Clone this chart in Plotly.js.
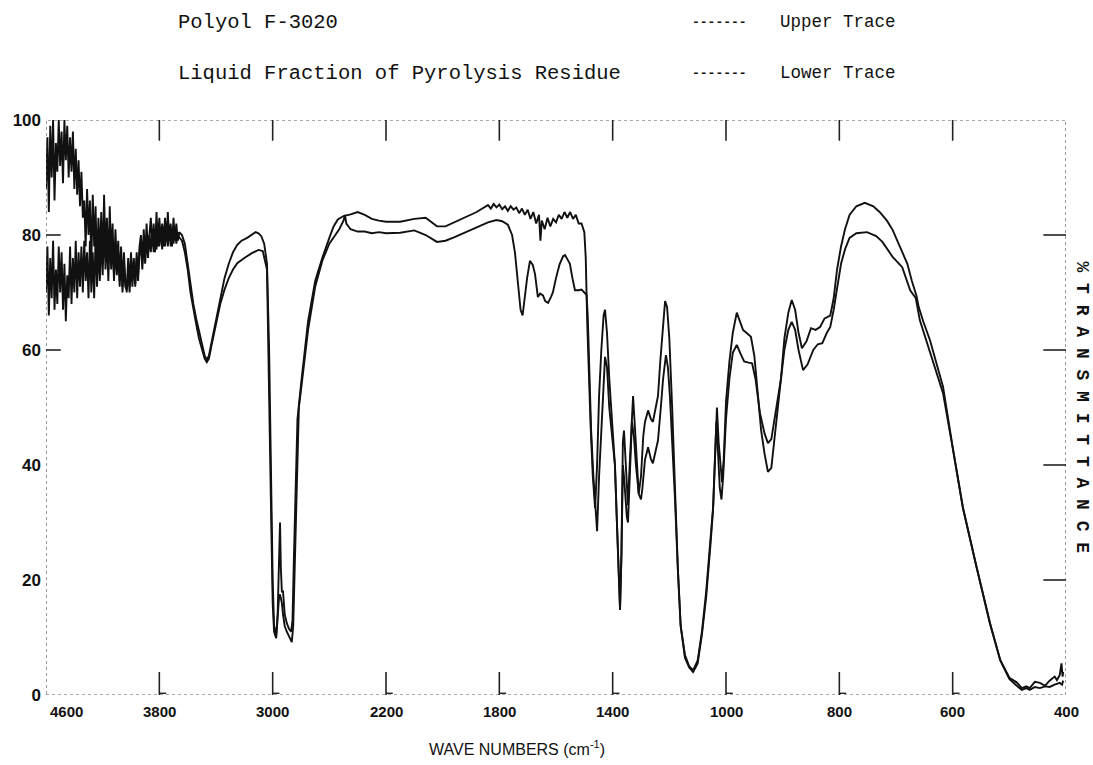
<!DOCTYPE html>
<html>
<head>
<meta charset="utf-8">
<script src="https://cdn.plot.ly/plotly-3.0.1.min.js"></script>
<style>html,body{margin:0;padding:0;background:#fff;}#chart{width:1093px;height:765px;}</style>
</head>
<body>
<div id="chart"></div>
<script>
// ---- Data (wavenumbers in cm^-1, % transmittance) ----
const noisyWave = [4600,4590,4580,4570,4560,4550,4540,4530,4520,4510,
  4500,4490,4480,4470,4460,4450,4440,4430,4420,4410,
  4400,4390,4380,4370,4360,4350,4340,4330,4320,4310,
  4300,4290,4280,4270,4260,4250,4240,4230,4220,4210,
  4200,4190,4180,4170,4160,4150,4140,4130,4120,4110,
  4100,4090,4080,4070,4060,4050,4040,4030,4020,4010,
  4000,3990,3980,3970,3960,3950,3940,3930,3920,3910,
  3900,3890,3880,3870,3860,3850,3840,3830,3820,3810,
  3800,3790,3780,3770,3760,3750,3740,3730,3720,3710,
  3700,3690,3680,3670,3660];
const upperNoisyT = [88,97,84,99,90,100,86,96,91,100,
  92,98,89,100,93,99,90,97,91,98,
  88,95,87,93,85,91,83,86,78,88,
  80,86,75,87,78,85,74,83,76,84,
  75,87,77,83,74,85,76,82,73,81,
  75,79,72,78,71,77,72,70,76,71,
  77,72,76,71,77,73,78,80,75,81,
  76,82,77,81,83,78,82,77,84,78,
  83,79,82,78,83,79,84,79,82,78,
  83,79,82,79,80.5];
const lowerNoisyT = [70,78,66,76,69,79,67,74,68,78,
  70,77,67,75,65,73,69,78,68,76,
  70,79,69,77,71,78,70,79,72,77,
  69,79,70,77,69,80,71,78,72,80,
  73,82,74,80,72,81,74,79,72,78,
  73,77,71,76,70,75,71,70.5,74,70,
  75,71,75.5,71.5,76,72,77,78,74,79,
  75,80,76,80,77,81,77,81,77.5,82,
  78,81,77.5,81.5,78,81,78,81.5,78,81,
  78.5,81,78.5,80.5,79.6];

// Upper trace: Polyol F-3020
const upperWave = [3640,3620,3600,3580,3560,3540,3520,3500,3480,3465,
  3450,3430,3400,3370,3340,3310,3280,3250,3220,3180,
  3150,3120,3100,3080,3060,3040,3025,3010,3000,2990,
  2975,2965,2955,2948,2942,2935,2927,2915,2900,2885,
  2870,2860,2850,2840,2825,2800,2780,2750,2700,2650,
  2600,2570,2540,2500,2450,2400,2350,2300,2250,2200,
  2150,2100,2060,2020,1990,1960,1920,1880,1860,1840,
  1830,1820,1810,1800,1790,1780,1770,1760,1750,1740,
  1730,1720,1710,1700,1690,1680,1670,1660,1655,1650,
  1640,1630,1620,1610,1600,1590,1580,1570,1560,1550,
  1540,1530,1520,1510,1500,1495,1490,1485,1478,1470,
  1462,1455,1448,1440,1432,1427,1420,1412,1402,1392,
  1385,1378,1374,1369,1364,1360,1355,1346,1340,1332,
  1328,1322,1315,1308,1300,1292,1286,1275,1265,1258,
  1248,1240,1232,1222,1215,1208,1200,1190,1180,1170,
  1160,1145,1130,1116,1100,1085,1070,1055,1045,1038,
  1032,1026,1020,1014,1008,1000,994,988,981,975,
  970,964,956,950,944,938,932,926,920,914,
  908,903,897,890,884,878,872,866,858,850,
  842,834,826,816,810,804,797,790,782,770,
  755,740,729,716,706,690,680,672,664,660,
  652,640,630,617,600,582,558,534,516,500,
  487,478,470,464,455,446,437,429,420,416,
  411,408,406,405];
const upperT = [80,78.5,75,71,68,65.5,63.5,61,59,58.3,
  59,61.5,65,69,72.5,75,77,78.3,79,79.5,
  80,80.5,80.3,79.8,78.5,75,60,35,20,12,
  10.5,14,25,30,22,18,18,14,12.5,11.5,
  11,13,24,35,48,54,58,65,72,76,
  79.5,81.5,82.7,83.3,83.6,84,83.5,82.8,82.5,82.3,
  82.3,82.8,83,81.5,81.5,82.2,83,84,84.6,85.2,
  84.6,85.4,84.8,85.3,84.5,85,84.2,85,84.4,84.8,
  83.8,84.6,83.5,84.4,82.8,84,82,83.5,79,82.5,
  81,83,81.5,82.8,82.2,83.5,82.8,84,83,84,
  82.8,83.5,82,82,80.5,76,65,56,47,38,
  32.5,40,52,60,66,67,63,55,46.5,40,
  30,20,15,25,44,46,42,33,40,48,
  52,47,40,35,38,45,47.5,49.5,48,47.5,
  50,52,58,65,68.5,67.5,62,50,35,22,
  12,7,5,4.3,6,11,18,28,33,42,
  50,44,40,37,41,51,58,63,66.5,65,
  63.5,63,62.3,59,52,46,42,38.8,39.5,45,
  51,55,62,66.5,68.7,67,63,60.3,61.5,63.8,
  63.5,64,65.5,66,69,74,78,81,83.5,85,
  85.6,85,84,82.5,80.9,77.4,75,72,69.5,67.5,
  65,61.7,58,53.6,43.1,32.7,22.3,12.5,6.1,3,
  2.2,1.2,1.5,1.2,2.3,2.1,1.6,2.5,3.2,2.6,
  3.5,5.5,3.2,4];

// Lower trace: Liquid Fraction of Pyrolysis Residue
const lowerWave = [3640,3620,3600,3580,3560,3540,3520,3500,3480,3465,
  3450,3430,3400,3370,3340,3310,3280,3250,3200,3150,
  3100,3070,3040,3025,3010,3000,2990,2975,2965,2955,
  2948,2935,2927,2915,2900,2880,2865,2855,2845,2830,
  2815,2800,2780,2750,2700,2650,2600,2560,2530,2500,
  2490,2480,2450,2400,2350,2300,2250,2200,2150,2100,
  2060,2020,1990,1960,1920,1880,1840,1810,1790,1770,
  1755,1745,1735,1725,1718,1712,1702,1692,1682,1674,
  1664,1656,1646,1638,1628,1618,1611,1600,1588,1575,
  1568,1560,1551,1542,1533,1520,1510,1500,1492,1488,
  1482,1476,1468,1462,1455,1448,1440,1432,1427,1420,
  1412,1402,1392,1385,1378,1374,1369,1364,1360,1355,
  1350,1346,1340,1332,1325,1318,1308,1300,1295,1286,
  1275,1265,1258,1250,1240,1230,1222,1212,1205,1198,
  1190,1180,1170,1160,1145,1130,1116,1100,1085,1070,
  1055,1046,1040,1034,1028,1022,1016,1010,1000,994,
  988,981,975,968,960,954,948,940,932,926,
  920,914,908,903,897,890,884,878,872,864,
  856,846,838,830,822,816,810,804,797,790,
  782,770,751,735,724,706,689,675,665,658,
  640,617,600,582,558,534,516,500,487,478,
  470,464,455,446,437,429,420,411,407,405];
const lowerT = [79,77,74,70,67,64.5,62,60,58.5,57.9,
  58.5,61,64.5,68,70.5,72.5,74,75.1,76,76.8,
  77.4,77.2,74,55,30,16,11,9.9,13,17,
  17.5,16,14,12,11,10,9.2,12,22,40,
  50,53,57,63.5,71,75.5,78.5,80,81,82.5,
  83.5,82,81,80.6,80.6,80.3,80.5,80.3,80.4,80.8,
  80,78.8,79,79.6,80.5,81.3,82.2,82.6,82.4,81.8,
  80,77,72,67,66,68.5,72.5,75.5,74.8,73.2,
  69.2,69.8,69.5,68.5,68.2,69.2,70,72.5,74.8,76.3,
  76.5,75.8,75,72.5,70.4,70.4,70.5,70,69.6,66,
  56,46,38,34,28.5,38,47,55,58.8,57,
  50,45,40,30,20,14.8,24,40,38,34,
  31,30,38,47.5,45,40,35,34,36,40.9,
  43.1,41,40.3,42,44.3,50,55,59.1,57,52,
  45,34,22,12,6.5,4.8,4,5.5,10.5,17,
  26,32,40,47.5,42,36,34,38,48,55,
  59.5,60.9,59.5,58,57.8,57.7,55,49,45.5,43.8,
  44.5,48,51.8,55,60,63.5,64.9,63.5,60,56.5,
  57.5,60,61,61.2,63,64,67,71,75,77.5,
  79.5,80.3,80.5,79.8,78.8,76.2,74.4,70.4,69,65.2,
  59.5,52.5,43,32.5,22.3,12.3,6,2.8,1.6,0.9,
  1.2,0.9,1.4,1.2,1.5,1.4,1.8,2.1,1.8,2.5];

// Axis ticks (wavenumber labels) and transmittance labels
const xTickLabels = [4600,3800,3000,2200,1800,1400,1000,800,600,400];
const yTickVals = [0,20,40,60,80,100];
const rightTickVals = [20,40,60,80];
const leftTickVals = [60,80];

// Spectrometer chart paper scale: 800 cm-1/div above 2200, 400 cm-1/div 2200-1000, 200 cm-1/div below 1000
function toU(w){
  if (w >= 2200) return (4600 - w) / 800;
  if (w >= 1000) return 3 + (2200 - w) / 400;
  return 6 + (1000 - w) / 200;
}

const ux = noisyWave.concat(upperWave).map(toU);
const uy = upperNoisyT.concat(upperT);
const lx = noisyWave.concat(lowerWave).map(toU);
const ly = lowerNoisyT.concat(lowerT);

const lineStyle = {color:'#111', width:1.9};
const traces = [
  {x: ux, y: uy, type:'scatter', mode:'lines', line: lineStyle, name:'Polyol F-3020', hoverinfo:'skip'},
  {x: lx, y: ly, type:'scatter', mode:'lines', line: lineStyle, name:'Liquid Fraction of Pyrolysis Residue', hoverinfo:'skip'}
];

const tickColor = '#222';
const shapes = [
  {type:'rect', xref:'x', yref:'y', x0:0, x1:9, y0:0, y1:100, line:{color:'#555', width:1.2, dash:'dot'}}
];
xTickLabels.forEach((lab, i) => {
  if (i === 0 || i === xTickLabels.length - 1) return;
  const u = toU(lab);
  shapes.push({type:'line', xref:'x', yref:'y', x0:u, x1:u, y0:100, y1:96.4, line:{color:tickColor, width:1.6}});
  shapes.push({type:'line', xref:'x', yref:'y', x0:u, x1:u, y0:0, y1:4, line:{color:tickColor, width:1.6}});
  shapes.push({type:'line', xref:'x', yref:'y', x0:u, x1:u+0.06, y0:0.3, y1:0.3, line:{color:tickColor, width:1.4}});
});
rightTickVals.forEach(v => {
  shapes.push({type:'line', xref:'x', yref:'y', x0:9, x1:8.8, y0:v, y1:v, line:{color:tickColor, width:1.6}});
});
leftTickVals.forEach(v => {
  shapes.push({type:'line', xref:'x', yref:'y', x0:0, x1:0.13, y0:v, y1:v, line:{color:tickColor, width:1.6}});
});

const monoFont = {family:'Liberation Mono, DejaVu Sans Mono, monospace', size:20.5, color:'#111'};
const monoFontR = {family:'Liberation Mono, DejaVu Sans Mono, monospace', size:17.5, color:'#111'};
const dashFont = {family:'Liberation Mono, monospace', size:13, color:'#111', weight:'bold'};
const annotations = [
  {text:'Polyol F-3020', xref:'paper', yref:'paper', x:0.1275, y:1.1704, xanchor:'left', yanchor:'middle', showarrow:false, font:monoFont},
  {text:'Liquid Fraction of Pyrolysis Residue', xref:'paper', yref:'paper', x:0.1275, y:1.0817, xanchor:'left', yanchor:'middle', showarrow:false, font:monoFont},
  {text:'-------', xref:'paper', yref:'paper', x:0.6314, y:1.1704, xanchor:'left', yanchor:'middle', showarrow:false, font:dashFont},
  {text:'-------', xref:'paper', yref:'paper', x:0.6314, y:1.0817, xanchor:'left', yanchor:'middle', showarrow:false, font:dashFont},
  {text:'Upper Trace', xref:'paper', yref:'paper', x:0.7176, y:1.1704, xanchor:'left', yanchor:'middle', showarrow:false, font:monoFontR},
  {text:'Lower Trace', xref:'paper', yref:'paper', x:0.7176, y:1.0817, xanchor:'left', yanchor:'middle', showarrow:false, font:monoFontR},
  {text:'WAVE NUMBERS (cm<sup>-1</sup>)', xref:'paper', yref:'paper', x:0.4618, y:-0.0922, xanchor:'center', yanchor:'middle', showarrow:false, font:{family:'Liberation Sans, Arial, sans-serif', size:16, color:'#111'}},
  {text:'% T R A N S M I T T A N C E', xref:'paper', yref:'paper', x:1.0157, y:0.5, xanchor:'center', yanchor:'middle', textangle:90, showarrow:false, font:{family:'Liberation Mono, monospace', size:18, color:'#111', weight:'bold'}}
];
xTickLabels.forEach((lab, i) => {
  annotations.push({
    text: String(lab), xref:'x', yref:'paper', x: toU(lab), y: 0,
    xanchor: i === 0 ? 'left' : 'center', yanchor:'top', yshift:-6, xshift: i === 0 ? 2 : 0,
    showarrow:false, font:{family:'Liberation Sans, Arial, sans-serif', size:15, color:'#111', weight:'bold'}
  });
});

const layout = {
  width:1093, height:765,
  margin:{l:46, r:27, t:120, b:70, pad:0},
  paper_bgcolor:'#fff', plot_bgcolor:'#fff',
  showlegend:false,
  xaxis:{range:[0,9], showgrid:false, zeroline:false, showline:false, showticklabels:false, ticks:'', fixedrange:true},
  yaxis:{range:[0,100], tickvals:yTickVals, ticktext:yTickVals.map(String), showgrid:false, zeroline:false, showline:false, ticks:'', ticklabelstandoff:4,
         tickfont:{family:'Liberation Sans, Arial, sans-serif', size:17, color:'#111', weight:'bold'}, fixedrange:true},
  shapes: shapes,
  annotations: annotations
};

Plotly.newPlot('chart', traces, layout, {displayModeBar:false, staticPlot:true});
</script>
</body>
</html>
